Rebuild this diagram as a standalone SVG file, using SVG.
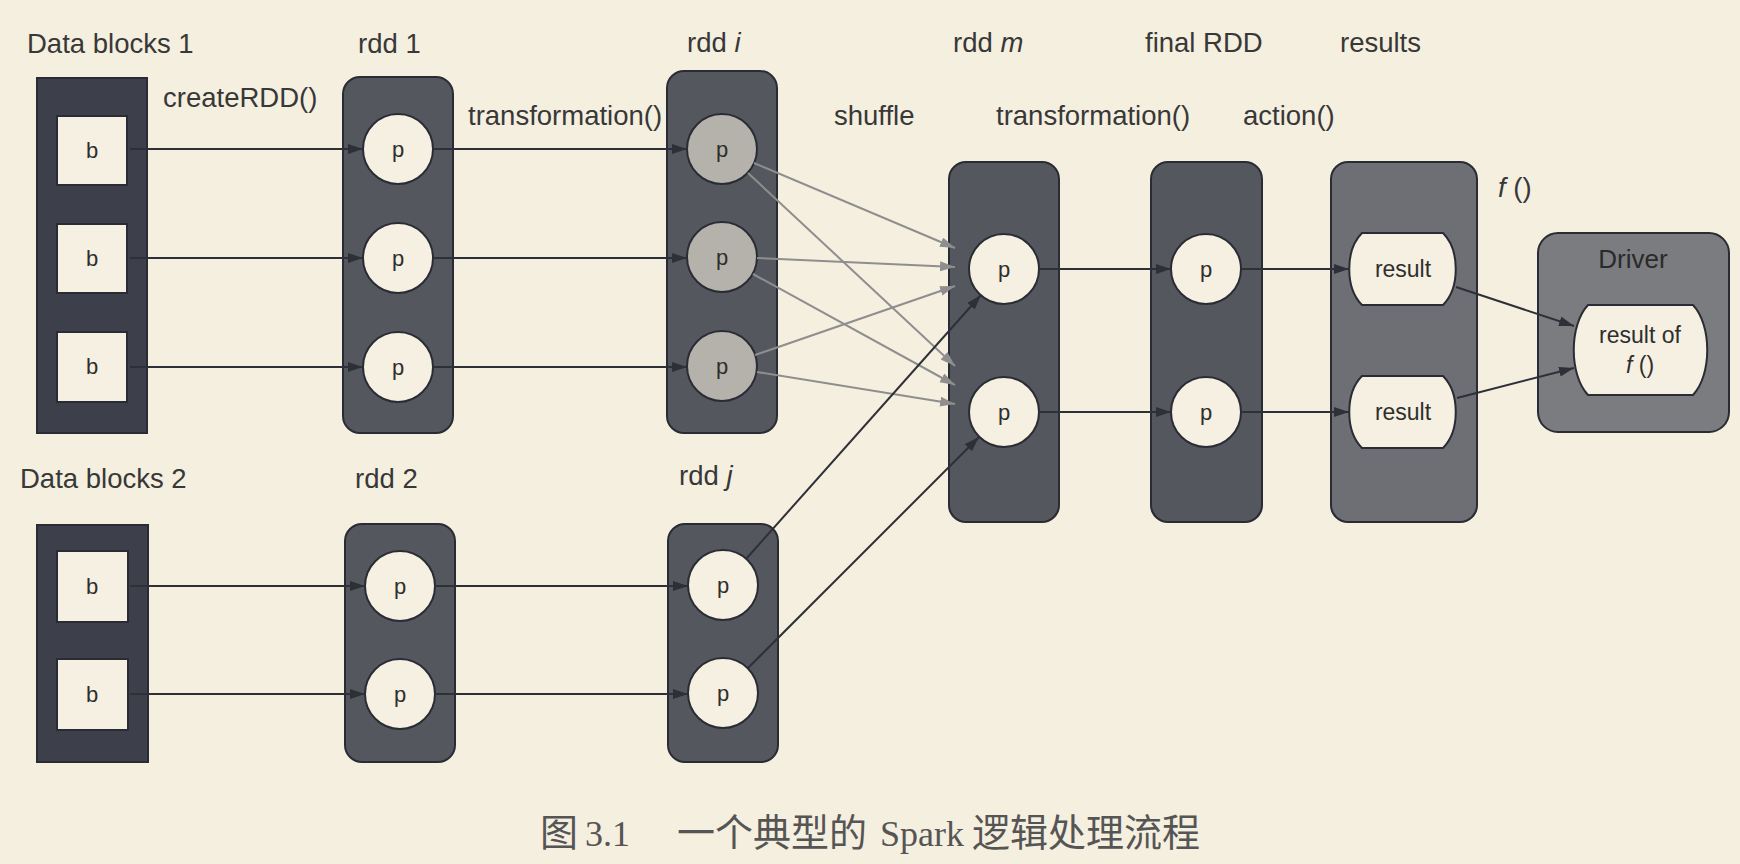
<svg xmlns="http://www.w3.org/2000/svg" width="1740" height="864" viewBox="0 0 1740 864">
<style>
.lbl{font-family:"Liberation Sans",Arial,sans-serif;font-size:27.5px;fill:#383838}
.in{font-family:"Liberation Sans",Arial,sans-serif;font-size:22px;fill:#2e2e2e;text-anchor:middle}
.res{font-family:"Liberation Sans",Arial,sans-serif;font-size:23px;fill:#2e2e2e;text-anchor:middle}
.blk{fill:#3d404b;stroke:#2a2c35;stroke-width:2}
.bx{fill:#f5f0e1;stroke:#2a2c35;stroke-width:2}
.rdd{fill:#55575f;stroke:#2a2c35;stroke-width:2}
.rbx{fill:#6e6f74;stroke:#2a2c35;stroke-width:2}
.drv{fill:#7b7c80;stroke:#2a2c35;stroke-width:2}
.pc{fill:#f5f0e1;stroke:#2a2c35;stroke-width:2}
.pg{fill:#b4b2aa;stroke:#2a2c35;stroke-width:2}
.ar{stroke:#2e3038;stroke-width:2;fill:none;marker-end:url(#ah)}
.gr{stroke:#8e8e8e;stroke-width:2;fill:none;marker-end:url(#ag)}
.cap{font-family:"Liberation Serif","Noto Sans CJK SC",serif;font-size:36px;fill:#555}
.cj{font-size:38px}
</style>
<defs>
<marker id="ah" markerUnits="userSpaceOnUse" markerWidth="16" markerHeight="12" refX="15" refY="5" orient="auto">
<path d="M0,0 L15,5 L0,10 z" fill="#2e3038"/>
</marker>
<marker id="ag" markerUnits="userSpaceOnUse" markerWidth="16" markerHeight="12" refX="15" refY="5" orient="auto">
<path d="M0,0 L15,5 L0,10 z" fill="#8e8e8e"/>
</marker>
</defs>
<rect width="1740" height="864" fill="#f5efdf"/>

<!-- labels -->
<g id="labels">
<text class="lbl" x="27" y="53">Data blocks 1</text>
<text class="lbl" x="358" y="53">rdd 1</text>
<text class="lbl" x="687" y="52">rdd <tspan font-style="italic">i</tspan></text>
<text class="lbl" x="953" y="52">rdd <tspan font-style="italic">m</tspan></text>
<text class="lbl" x="1145" y="52">final RDD</text>
<text class="lbl" x="1340" y="52">results</text>
<text class="lbl" x="163" y="107">createRDD()</text>
<text class="lbl" x="468" y="125">transformation()</text>
<text class="lbl" x="834" y="125">shuffle</text>
<text class="lbl" x="996" y="125">transformation()</text>
<text class="lbl" x="1243" y="125">action()</text>
<text class="lbl" x="1498" y="197"><tspan font-style="italic">f</tspan> ()</text>
<text class="lbl" x="20" y="488">Data blocks 2</text>
<text class="lbl" x="355" y="488">rdd 2</text>
<text class="lbl" x="679" y="485">rdd <tspan font-style="italic">j</tspan></text>
</g>

<g id="datablocks1">
<rect class="blk" x="37" y="78" width="110" height="355"/>
<rect class="bx" x="57" y="116" width="70" height="69"/><text class="in" x="92" y="158">b</text>
<rect class="bx" x="57" y="224" width="70" height="69"/><text class="in" x="92" y="266">b</text>
<rect class="bx" x="57" y="332" width="70" height="70"/><text class="in" x="92" y="374">b</text>
</g>

<g id="rdd1">
<rect class="rdd" x="343" y="77" width="110" height="356" rx="17"/>
<circle class="pc" cx="398" cy="149" r="35"/><text class="in" x="398" y="157">p</text>
<circle class="pc" cx="398" cy="258" r="35"/><text class="in" x="398" y="266">p</text>
<circle class="pc" cx="398" cy="367" r="35"/><text class="in" x="398" y="375">p</text>
</g>

<g id="rddi">
<rect class="rdd" x="667" y="71" width="110" height="362" rx="17"/>
<circle class="pg" cx="722" cy="149" r="35"/><text class="in" x="722" y="157">p</text>
<circle class="pg" cx="722" cy="257" r="35"/><text class="in" x="722" y="265">p</text>
<circle class="pg" cx="722" cy="366" r="35"/><text class="in" x="722" y="374">p</text>
</g>

<g id="datablocks2">
<rect class="blk" x="37" y="525" width="111" height="237"/>
<rect class="bx" x="57" y="551" width="71" height="71"/><text class="in" x="92" y="594">b</text>
<rect class="bx" x="57" y="659" width="71" height="71"/><text class="in" x="92" y="702">b</text>
</g>

<g id="rdd2">
<rect class="rdd" x="345" y="524" width="110" height="238" rx="17"/>
<circle class="pc" cx="400" cy="586" r="35"/><text class="in" x="400" y="594">p</text>
<circle class="pc" cx="400" cy="694" r="35"/><text class="in" x="400" y="702">p</text>
</g>

<g id="rddj">
<rect class="rdd" x="668" y="524" width="110" height="238" rx="17"/>
<circle class="pc" cx="723" cy="585" r="35"/><text class="in" x="723" y="593">p</text>
<circle class="pc" cx="723" cy="693" r="35"/><text class="in" x="723" y="701">p</text>
</g>

<g id="rddm">
<rect class="rdd" x="949" y="162" width="110" height="360" rx="17"/>
<circle class="pc" cx="1004" cy="269" r="35"/><text class="in" x="1004" y="277">p</text>
<circle class="pc" cx="1004" cy="412" r="35"/><text class="in" x="1004" y="420">p</text>
</g>

<g id="finalrdd">
<rect class="rdd" x="1151" y="162" width="111" height="360" rx="17"/>
<circle class="pc" cx="1206" cy="269" r="35"/><text class="in" x="1206" y="277">p</text>
<circle class="pc" cx="1206" cy="412" r="35"/><text class="in" x="1206" y="420">p</text>
</g>

<g id="results">
<rect class="rbx" x="1331" y="162" width="146" height="360" rx="17"/>
<path class="pc" d="M1362,233 H1443 C1460,250 1460,288 1443,305 H1362 C1345,288 1345,250 1362,233 Z"/>
<text class="res" x="1403" y="277">result</text>
<path class="pc" d="M1362,376 H1443 C1460,393 1460,431 1443,448 H1362 C1345,431 1345,393 1362,376 Z"/>
<text class="res" x="1403" y="420">result</text>
</g>

<g id="driver">
<rect class="drv" x="1538" y="233" width="191" height="199" rx="20"/>
<text x="1633" y="268" text-anchor="middle" style="font-family:'Liberation Sans',Arial,sans-serif;font-size:26px;fill:#2a2a2a">Driver</text>
<path class="pc" d="M1588,305 H1693 C1712,325 1712,375 1693,395 H1588 C1569,375 1569,325 1588,305 Z"/>
<text class="res" x="1640" y="343">result of</text>
<text class="res" x="1640" y="373"><tspan font-style="italic">f</tspan> ()</text>
</g>

<g id="connectors">
<line class="ar" x1="130" y1="149" x2="363" y2="149"/>
<line class="ar" x1="130" y1="258" x2="363" y2="258"/>
<line class="ar" x1="130" y1="367" x2="363" y2="367"/>
<line class="ar" x1="433" y1="149" x2="687" y2="149"/>
<line class="ar" x1="433" y1="258" x2="687" y2="258"/>
<line class="ar" x1="433" y1="367" x2="687" y2="367"/>
<line class="ar" x1="130" y1="586" x2="365" y2="586"/>
<line class="ar" x1="130" y1="694" x2="365" y2="694"/>
<line class="ar" x1="435" y1="586" x2="688" y2="586"/>
<line class="ar" x1="435" y1="694" x2="688" y2="694"/>
<line class="gr" x1="754" y1="163" x2="955" y2="248"/>
<line class="gr" x1="757" y1="258" x2="955" y2="267"/>
<line class="gr" x1="755" y1="355" x2="955" y2="286"/>
<line class="gr" x1="748" y1="173" x2="955" y2="366"/>
<line class="gr" x1="753" y1="274" x2="955" y2="385"/>
<line class="gr" x1="757" y1="372" x2="955" y2="404"/>
<line class="ar" x1="746" y1="559" x2="981" y2="295"/>
<line class="ar" x1="748" y1="668" x2="979" y2="437"/>
<line class="ar" x1="1039" y1="269" x2="1171" y2="269"/>
<line class="ar" x1="1039" y1="412" x2="1171" y2="412"/>
<line class="ar" x1="1241" y1="269" x2="1349" y2="269"/>
<line class="ar" x1="1241" y1="412" x2="1349" y2="412"/>
<line class="ar" x1="1456" y1="287" x2="1574" y2="326"/>
<line class="ar" x1="1457" y1="398" x2="1574" y2="368"/>
</g>

<text class="cap" y="846"><tspan x="540" class="cj">图</tspan><tspan x="585">3.1</tspan><tspan x="677" class="cj">一个典型的</tspan><tspan x="880">Spark</tspan><tspan x="972" class="cj">逻辑处理流程</tspan></text>
</svg>
